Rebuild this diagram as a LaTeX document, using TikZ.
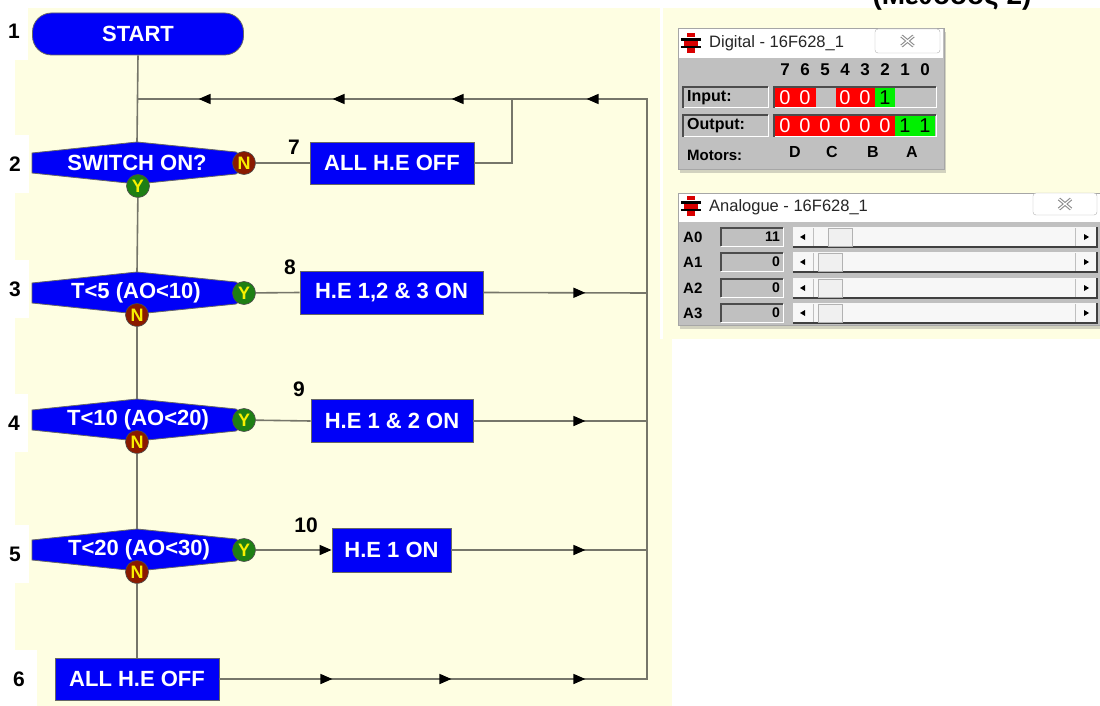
\documentclass[tikz,border=0pt]{standalone}
\usepackage{fontspec}
\setmainfont{Liberation Sans}
\usetikzlibrary{decorations.markings,arrows.meta,shadows}
\definecolor{bgy}{HTML}{FEFEE2}
\definecolor{hblue}{HTML}{0000F8}
\definecolor{lnc}{HTML}{76766A}
\definecolor{ygreen}{HTML}{1E7F14}
\definecolor{ndred}{HTML}{8A1A00}
\definecolor{ylw}{HTML}{F8F000}
\definecolor{wgray}{HTML}{C0C0C0}
\definecolor{cred}{HTML}{FF0000}
\definecolor{cgreen}{HTML}{00F000}
\newcommand{\decpoly}[1]{\draw[draw=black!60,line width=0.8pt,fill=hblue] (32,#1-10) -- (137,#1-21) -- (236,#1-11) -- (250,#1) -- (236,#1+11) -- (137,#1+21) -- (32,#1+10) -- cycle;}
\newcommand{\winicon}[2]{%
  \fill[cred!85!black] (#1-4,#2-10) rectangle (#1+4,#2-6);
  \fill[black] (#1-10,#2-5) rectangle (#1+10,#2-2);
  \fill[cred!85!black] (#1-7,#2-2) rectangle (#1+7,#2+3);
  \fill[black] (#1-10,#2+3) rectangle (#1+10,#2+5);
  \fill[cred!85!black] (#1-4,#2+5) rectangle (#1+4,#2+10);}
\newcommand{\closebtn}[4]{%
  \draw[gray!60,fill=white,rounded corners=3pt] (#1,#2) rectangle (#3,#4);
  \draw[gray!90,line width=3.4pt] ({(#1+#3)/2-6},{(#2+#4)/2-5}) -- ({(#1+#3)/2+6},{(#2+#4)/2+5}) ({(#1+#3)/2-6},{(#2+#4)/2+5}) -- ({(#1+#3)/2+6},{(#2+#4)/2-5});
  \draw[white,line width=1.2pt] ({(#1+#3)/2-6},{(#2+#4)/2-5}) -- ({(#1+#3)/2+6},{(#2+#4)/2+5}) ({(#1+#3)/2-6},{(#2+#4)/2+5}) -- ({(#1+#3)/2+6},{(#2+#4)/2-5});}
\newcommand{\insetbox}[4]{%
  \fill[wgray] (#1,#2) rectangle (#3,#4);
  \draw[white,line width=1pt] (#1,#4) -- (#3,#4) -- (#3,#2);
  \draw[black!70,line width=1.3pt] (#1,#4) -- (#1,#2) -- (#3,#2);}
\newcommand{\scrollrow}[2]{%
  \fill[gray!6] (793,#1-10) rectangle (1097,#1+10);
  \draw[black!75,line width=1.2pt] (793,#1+10) -- (1097,#1+10) -- (1097,#1-10);
  \draw[gray!50] (813,#1-9) -- (813,#1+9);
  \fill[black] (800,#1) -- (805,#1-3) -- (805,#1+3) -- cycle;
  \draw[gray!60,fill=gray!12] (#2,#1-9) rectangle (#2+24,#1+9);
  \draw[gray!50] (1075,#1-9) -- (1075,#1+9);
  \fill[black] (1089,#1) -- (1084,#1-3) -- (1084,#1+3) -- cycle;}
\begin{document}
\begin{tikzpicture}[x=1pt,y=-1pt,
  >={Triangle[length=12pt,width=10pt]},
  conn/.style={draw=lnc,line width=1.6pt},
  blk/.style={draw=black!60,line width=0.8pt,fill=hblue,text=white,font=\bfseries\fontsize{22}{22}\selectfont,inner sep=0pt,minimum height=42pt},
  dtext/.style={text=white,font=\bfseries\fontsize{22}{22}\selectfont,inner sep=0pt},
  ycirc/.style={circle,draw=black!70,line width=0.6pt,fill=ygreen,text=ylw,font=\bfseries\fontsize{18}{18}\selectfont,inner sep=0pt,minimum size=23pt},
  ncirc/.style={ycirc,fill=ndred},
  numlbl/.style={font=\bfseries\fontsize{21}{21}\selectfont,text=black,inner sep=0pt},
  numbox/.style={numlbl,fill=white,minimum width=27pt,minimum height=58pt},
  wtxt/.style={font=\fontsize{16.5}{16.5}\selectfont,text=black!85,inner sep=0pt,anchor=west},
  hdr/.style={font=\bfseries\fontsize{17}{17}\selectfont,inner sep=0pt},
  cell/.style={font=\fontsize{20}{20}\selectfont,inner sep=0pt},
  lbl/.style={font=\bfseries\fontsize{16}{16}\selectfont,inner sep=0pt,anchor=west},
  rowl/.style={font=\bfseries\fontsize{15}{15}\selectfont,inner sep=0pt,anchor=west},
  val/.style={font=\bfseries\fontsize{14}{14}\selectfont,inner sep=0pt,anchor=east},
  shd/.style={drop shadow={shadow xshift=2pt,shadow yshift=-4pt,opacity=0.35}}
]
\useasboundingbox (0,0) rectangle (1100,706);
\clip (0,0) rectangle (1100,706);
% backgrounds
\fill[white] (0,0) rectangle (1100,706);
\fill[bgy] (15,8) rectangle (660,706);
\fill[bgy] (660,339) rectangle (672,706);
\fill[bgy] (663,8) rectangle (1100,339);
% cut-off heading (cut off in the reference too)
\node[font=\bfseries\fontsize{28}{28}\selectfont,inner sep=0pt,anchor=base] (ttl) at (952,5) {(Μέθοδος 2)};

% number labels
\node[numbox] (n1) at (14,31) {1};
\node[numbox] (n2) at (15,164) {2};
\node[numbox] (n3) at (15,289) {3};
\node[numbox] (n4) at (14,423) {4};
\node[numbox] (n5) at (15,554) {5};
\node[numbox,minimum width=35pt] (n6) at (19,679) {6};
\node[numlbl] (n7) at (294,147) {7};
\node[numlbl] (n8) at (290,267) {8};
\node[numlbl] (n9) at (299,389) {9};
\node[numlbl] (n10) at (306,525) {10};

% start
\node[blk,rounded corners=19pt,minimum width=211pt] (start) at (138,34) {START};
% decisions
\decpoly{163}
\node[dtext] (d2) at (137,163) {SWITCH ON?};
\decpoly{293}
\node[dtext] (d3) at (136,293) {T<5 (AO<10)};
\decpoly{420}
\node[dtext] (d4) at (138,420) {T<10 (AO<20)};
\decpoly{550}
\node[dtext] (d5) at (139,550) {T<20 (AO<30)};
\coordinate (d2t) at (137,142);
\coordinate (d3t) at (137,272);
\coordinate (d4t) at (137,399);
\coordinate (d5t) at (137,529);
\node[ncirc] (d2n) at (244,163) {N};
\node[ycirc] (d2y) at (138,186) {Y};
\node[ycirc] (d3y) at (244,293) {Y};
\node[ncirc] (d3n) at (137,315) {N};
\node[ycirc] (d4y) at (244,420) {Y};
\node[ncirc] (d4n) at (137,442) {N};
\node[ycirc] (d5y) at (244,550) {Y};
\node[ncirc] (d5n) at (137,572) {N};
% process boxes
\node[blk,minimum width=164pt] (b6) at (137,679) {ALL H.E OFF};
\node[blk,minimum width=164pt] (b7) at (392,163) {ALL H.E OFF};
\node[blk,minimum width=183pt,minimum height=43pt] (b8) at (391.5,292.5) {H.E 1,2 \& 3 ON};
\node[blk,minimum width=162pt,minimum height=43pt] (b9) at (392,421) {H.E 1 \& 2 ON};
\node[blk,minimum width=119pt,minimum height=44pt] (b10) at (391.5,550) {H.E 1 ON};

% connector points
\coordinate (jn) at (137,99);
\coordinate (lp) at (512,99);
\coordinate (rt) at (647,99);
\coordinate (rb) at (647,679);
\coordinate (r8) at (647,293);
\coordinate (r9) at (647,421);
\coordinate (r10) at (647,550);

% connectors
\draw[conn] (start.south) -- (d2t);
\draw[conn] (d2y) -- (d3t);
\draw[conn] (d3n) -- (d4t);
\draw[conn] (d4n) -- (d5t);
\draw[conn] (d5n) -- (b6.north);
\draw[conn] (d2n) -- (b7.west);
\draw[conn] (d3y) -- (b8.west);
\draw[conn] (d4y) -- (b9.west);
\draw[conn,-{Triangle[length=12pt,width=10pt,color=black]}] (d5y) -- (b10.west);
\draw[conn] (b7.east) -- (b7.east -| lp) -- (lp);
\draw[conn,postaction={decorate},decoration={markings,mark=at position 102pt with {\arrow[black]{>}}}] (b8.east) -- (r8);
\draw[conn,postaction={decorate},decoration={markings,mark=at position 112pt with {\arrow[black]{>}}}] (b9.east) -- (r9);
\draw[conn,postaction={decorate},decoration={markings,mark=at position 134pt with {\arrow[black]{>}}}] (b10.east) -- (r10);
\draw[conn,postaction={decorate},decoration={markings,
  mark=at position 113pt with {\arrow[black]{>}},
  mark=at position 232pt with {\arrow[black]{>}},
  mark=at position 366pt with {\arrow[black]{>}},
  mark=at position 1068pt with {\arrow[black]{>}},
  mark=at position 1203pt with {\arrow[black]{>}},
  mark=at position 1322pt with {\arrow[black]{>}},
  mark=at position 1456pt with {\arrow[black]{>}}}] (b6.east) -- (rb) -- (rt) -- (jn);

% ===== Digital window =====
\path[draw=gray!70,fill=wgray,shd] (678,28) rectangle (944,169);
\fill[white] (679,29) rectangle (943,58);
\winicon{691}{43}
\node[wtxt] (dtitle) at (709,43) {Digital - 16F628\_1};
\closebtn{875}{29}{940}{53}
\foreach \b in {0,...,7} {
  \node[hdr] (h\b) at ({925-20*\b},70) {\b};
}
\insetbox{683}{87}{768}{108}
\node[lbl] (inl) at (687,98) {Input:};
\insetbox{774}{87}{936}{108}
\fill[cred] (775,88) rectangle (816,107);
\fill[cred] (836,88) rectangle (875,107);
\fill[cgreen] (875,88) rectangle (895,107);
\node[cell,text=white] (i7) at (785,98) {0};
\node[cell,text=white] (i6) at (805,98) {0};
\node[cell,text=white] (i4) at (845,98) {0};
\node[cell,text=white] (i3) at (865,98) {0};
\node[cell,text=black] (i2) at (885,98) {1};
\insetbox{683}{115}{768}{137}
\node[lbl] (outl) at (687,126) {Output:};
\insetbox{774}{115}{936}{137}
\fill[cred] (775,116) rectangle (895,136);
\fill[cgreen] (895,116) rectangle (935,136);
\foreach \b in {2,...,7} {
  \node[cell,text=white] (o\b) at ({925-20*\b},126) {0};
}
\node[cell,text=black] (o1) at (905,126) {1};
\node[cell,text=black] (o0) at (925,126) {1};
\node[lbl,font=\bfseries\fontsize{15}{15}\selectfont] (mot) at (687,155) {Motors:};
\node[hdr,font=\bfseries\fontsize{16}{16}\selectfont] (mD) at (795,152) {D};
\node[hdr,font=\bfseries\fontsize{16}{16}\selectfont] (mC) at (832,152) {C};
\node[hdr,font=\bfseries\fontsize{16}{16}\selectfont] (mB) at (873,152) {B};
\node[hdr,font=\bfseries\fontsize{16}{16}\selectfont] (mA) at (912,152) {A};

% ===== Analogue window =====
\path[draw=gray!70,fill=wgray,shd] (678,193) rectangle (1102,325);
\fill[white] (679,194) rectangle (1100,222);
\winicon{691}{206}
\node[wtxt] (atitle) at (709,207) {Analogue - 16F628\_1};
\closebtn{1033}{193}{1097}{215}
\node[rowl] (a0) at (683,237) {A0};
\insetbox{721}{228}{783}{246}
\node[val] (v0) at (780,237) {11};
\scrollrow{237}{828}
\node[rowl] (a1) at (683,262) {A1};
\insetbox{721}{253}{783}{271}
\node[val] (v1) at (780,262) {0};
\scrollrow{262}{818}
\node[rowl] (a2) at (683,288) {A2};
\insetbox{721}{279}{783}{297}
\node[val] (v2) at (780,288) {0};
\scrollrow{288}{818}
\node[rowl] (a3) at (683,313) {A3};
\insetbox{721}{304}{783}{322}
\node[val] (v3) at (780,313) {0};
\scrollrow{313}{818}
\end{tikzpicture}
\end{document}
